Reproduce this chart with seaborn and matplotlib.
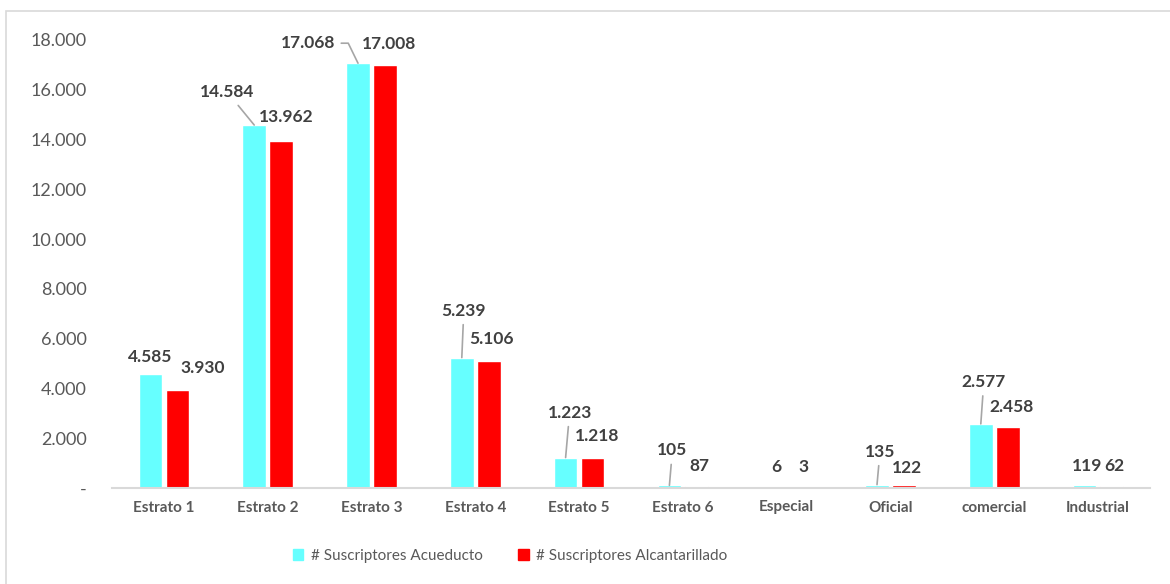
import numpy as np
import pandas as pd
import matplotlib.pyplot as plt
import seaborn as sns
from matplotlib.patches import Rectangle

categorias = ["Estrato 1", "Estrato 2", "Estrato 3", "Estrato 4", "Estrato 5",
              "Estrato 6", "Especial", "Oficial", "comercial", "Industrial"]
acueducto = [4585, 14584, 17068, 5239, 1223, 105, 6, 135, 2577, 119]
alcantarillado = [3930, 13962, 17008, 5106, 1218, 87, 3, 122, 2458, 62]
series = ["# Suscriptores Acueducto", "# Suscriptores Alcantarillado"]
colores = ["#66FFFF", "#FF0000"]
yticks = list(range(0, 18001, 2000))

df = pd.DataFrame({
    "Categoria": categorias * 2,
    "Suscriptores": acueducto + alcantarillado,
    "Serie": [series[0]] * len(categorias) + [series[1]] * len(categorias),
})

def fmt(v):
    return "-" if v == 0 else f"{v:,}".replace(",", ".")

sns.set_style("white")
plt.rcParams["font.family"] = ["Lato", "DejaVu Sans"]

fig = plt.figure(figsize=(11.7, 5.84), dpi=100)
fig.subplots_adjust(left=112/1170, right=1150/1170, bottom=1-488/584, top=1-40/584)
ax = fig.add_subplot(111)

sns.barplot(data=df, x="Categoria", y="Suscriptores", hue="Serie",
            palette=colores, width=0.52, gap=0.12, saturation=1,
            legend=False, ax=ax)

ax.set_ylim(0, 18000)
ax.set_yticks(yticks)
ax.set_yticklabels([fmt(v) for v in yticks], color="#595959", fontsize=13)
ax.set_xticks(range(len(categorias)))
ax.set_xticklabels(categorias, fontweight="bold", color="#595959", fontsize=11)
ax.tick_params(axis="y", length=0, pad=18)
ax.tick_params(axis="x", length=0, pad=9)
ax.set_xlabel("")
ax.set_ylabel("")
for s in ["top", "right", "left"]:
    ax.spines[s].set_visible(False)
ax.spines["bottom"].set_color("#d9d9d9")
ax.spines["bottom"].set_linewidth(1.5)

# offsets de etiquetas en pixeles (dx, dy hacia arriba) y lineas guia
off_cyan = [(0, 17), (-27, 33), (-50, 20), (2, 47), (4, 45), (3, 35), (3, 21), (3, 33), (3, 42), (2, 19)]
off_red = [(25, 22), (5, 24), (4, 21), (3, 22), (4, 22), (3, 20), (3, 21), (3, 17), (4, 20), (3, 20)]
leader = [None, "arc3", "angle,angleA=0,angleB=116,rad=0", "arc3", "arc3", "arc3", None, "arc3", "arc3", None]

for cont, offs, vals, lines in [(ax.containers[0], off_cyan, acueducto, leader),
                                (ax.containers[1], off_red, alcantarillado, [None] * 10)]:
    for bar, (dx, dy), v, ln in zip(cont, offs, vals, lines):
        x = bar.get_x() + bar.get_width() / 2
        y = bar.get_height()
        kw = {}
        if ln:
            kw["arrowprops"] = dict(arrowstyle="-", color="#a6a6a6", lw=1.2,
                                    shrinkA=2, shrinkB=0, connectionstyle=ln)
        ax.annotate(fmt(v), xy=(x, y), xytext=(dx * 0.72, dy * 0.72),
                    textcoords="offset points", ha="center", va="center",
                    fontsize=12.5, fontweight="bold", color="#404040",
                    annotation_clip=False, **kw)

handles = [Rectangle((0, 0), 1, 1, color=c) for c in colores]
fig.legend(handles, series, loc="center", bbox_to_anchor=(510/1170, 1-556/584),
           ncol=2, frameon=False, fontsize=11, handlelength=0.7, handleheight=0.7,
           handletextpad=0.5, columnspacing=2.3, labelcolor="#595959")

fig.add_artist(Rectangle((6/1170, -0.05), 1.1, 1.05 - 11/584, transform=fig.transFigure,
                         fill=False, ec="#d9d9d9", lw=1.2))

plt.savefig("out.png", dpi=100)
plt.close()
